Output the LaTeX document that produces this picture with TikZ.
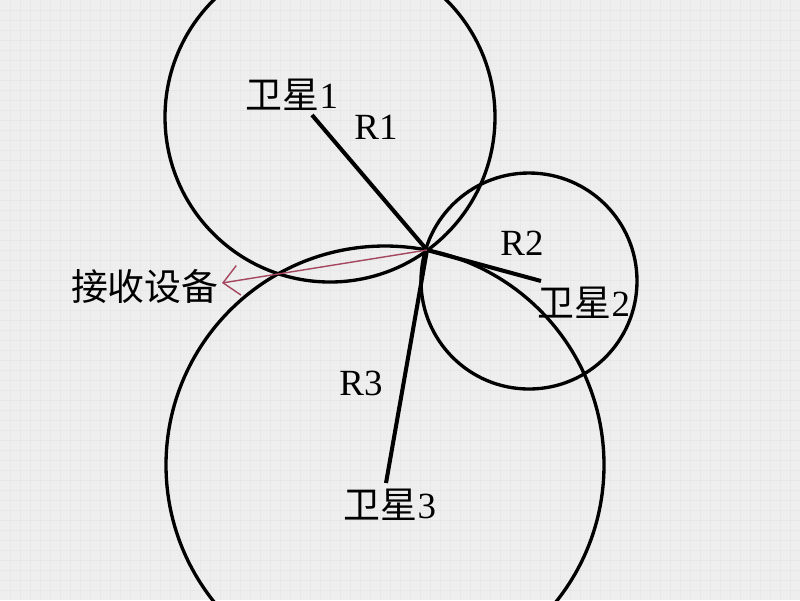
\documentclass[tikz,border=0pt]{standalone}
\usepackage{fontspec}
\setmainfont{Liberation Serif}
\newfontfamily\cjk{Noto Sans CJK SC}
\usetikzlibrary{arrows.meta, positioning}
\definecolor{signalred}{RGB}{165,70,95}

\begin{document}
\begin{tikzpicture}[
  x=0.02cm, y=-0.02cm,
  orbit/.style = {draw, line width=1.9pt},
  radial/.style = {draw, line width=2.3pt},
  tag/.style = {font=\fontsize{21}{24}\selectfont, inner sep=0pt},
  paper/.style = {draw=gray!19, line width=0.2pt},
  signal/.style = {draw=signalred, line width=0.8pt, -{Straight Barb[length=9pt,width=17pt]}}
]

  % background
  \useasboundingbox (0,0) rectangle (800,600);
  \fill[gray!13] (0,0) rectangle (800,600);
  \foreach \g in {10,20,...,790}
    \draw[paper] (\g,0) -- (\g,600);
  \foreach \g in {10,20,...,590}
    \draw[paper] (0,\g) -- (800,\g);

  % centres and the fix
  \coordinate (c1) at (330,117);
  \coordinate (c2) at (529,281);
  \coordinate (c3) at (385,465);
  \coordinate (fix) at (427,250);
  \coordinate (sat1) at (312,115);
  \coordinate (sat2) at (541,281);
  \coordinate (sat3) at (386,483);

  % ranges
  \begin{scope}
    \clip (0,0) rectangle (800,600);
    \draw[orbit] (c1) circle[radius=165];
    \draw[orbit] (c2) circle[radius=108];
    \draw[orbit] (c3) circle[radius=219];
  \end{scope}

  % distances
  \draw[radial] (sat1) -- (fix);
  \draw[radial] (fix) -- (sat2);
  \draw[radial] (fix) -- (sat3);

  % labels
  \node[tag] (lsat1) at (292,95) {{\cjk 卫星}1};
  \node[tag] (lr1) at (376,127) {R1};
  \node[tag] (lr2) at (522,243) {R2};
  \node[tag] (lsat2) at (584,303) {{\cjk 卫星}2};
  \node[tag] (lr3) at (361,383) {R3};
  \node[tag] (lsat3) at (390,505) {{\cjk 卫星}3};
  \node[tag, anchor=east] (recv) at (219,286) {\cjk 接收设备};

  % receiver
  \coordinate (tip) at (222,283);
  \draw[signal] (fix) -- (tip);

\end{tikzpicture}
\end{document}
